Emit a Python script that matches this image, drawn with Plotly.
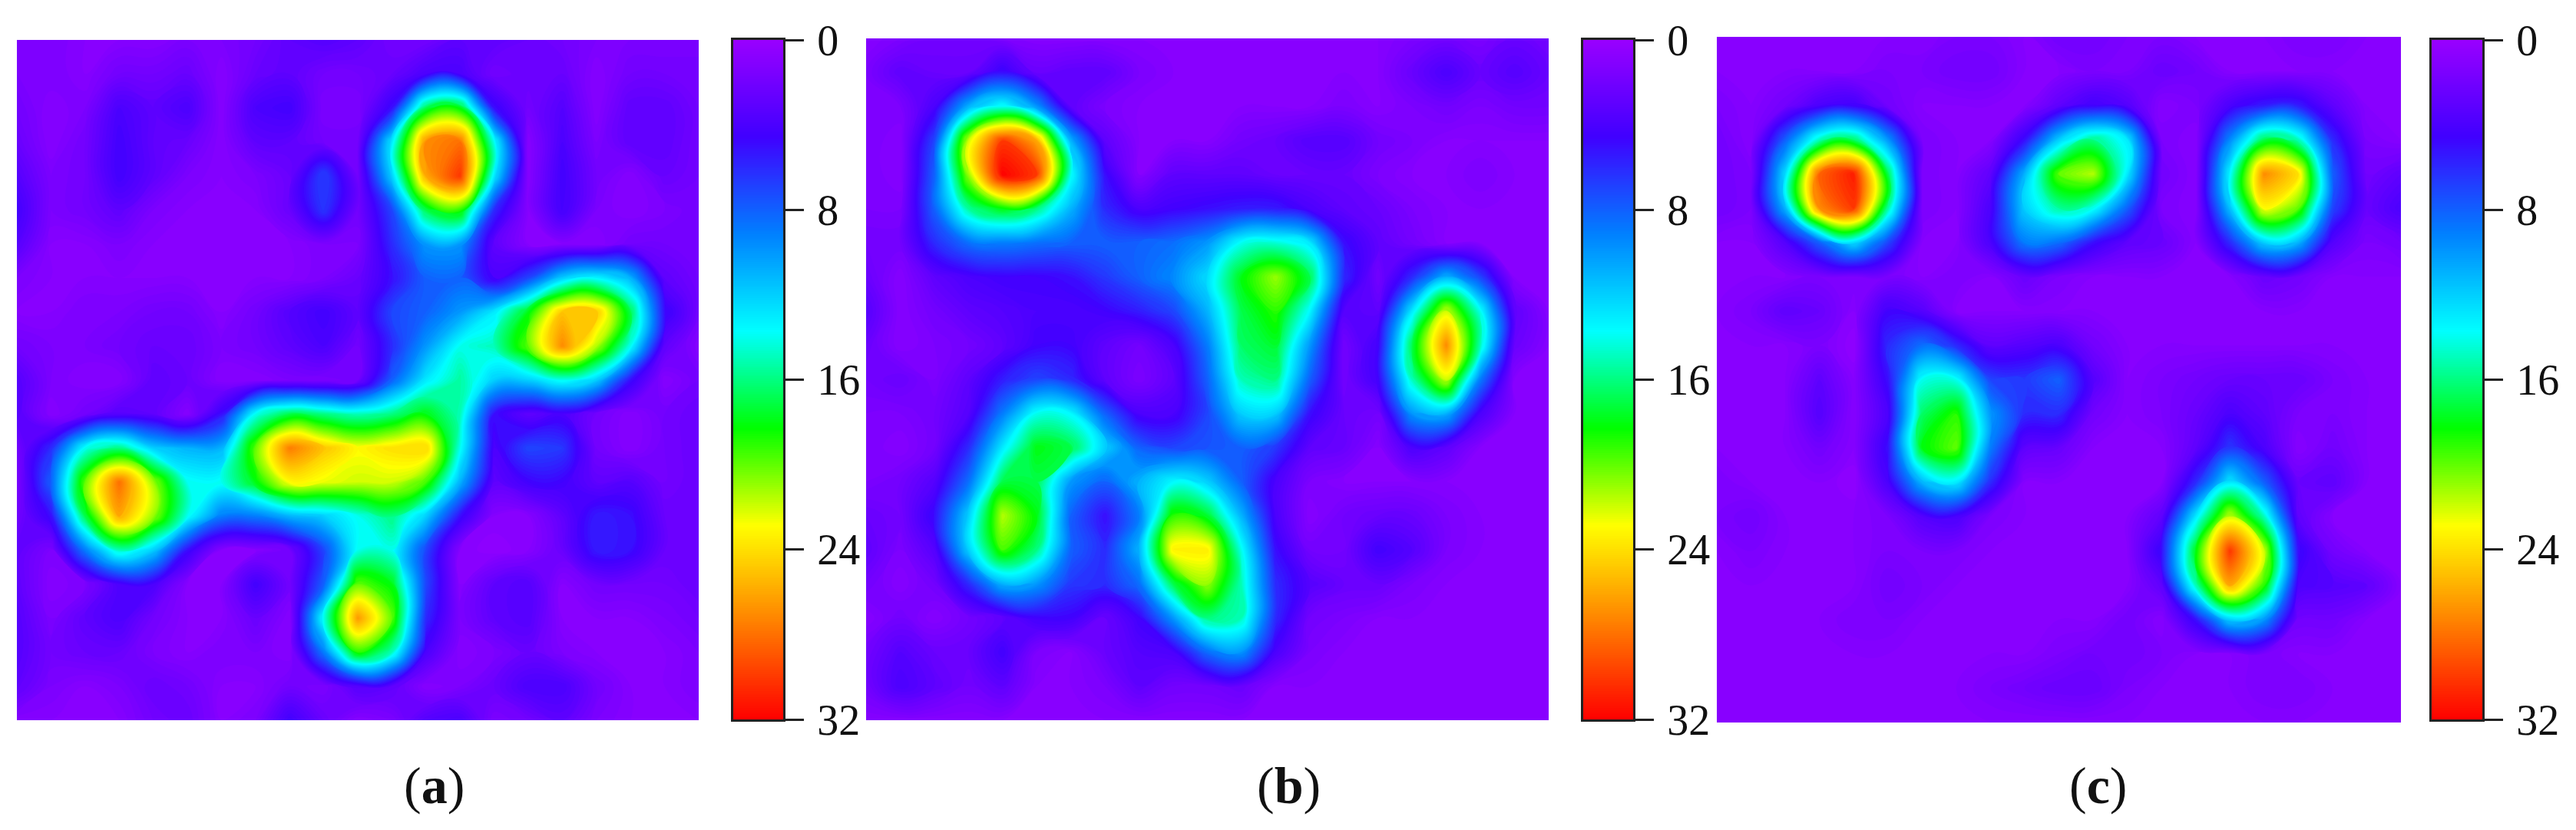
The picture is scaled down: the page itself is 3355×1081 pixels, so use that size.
import plotly.graph_objects as go
import numpy as np

W, H = 3355, 1081
OFF = 8  # page body margin
tick_values = [0, 8, 16, 24, 32]
panel_labels = ["a", "b", "c"]

field_a = [
[1.5,1.5,1,1,1,1.5,1.5,2,3,3.5,3,2,2,3,3,2.5,2,1.5,1.5,1.5,1.5],
[1.5,1.5,1,2,2,2.5,1,2.5,3,2,2,2.5,4,4,2,2.5,2.5,1,2,2,2],
[2,1,1.5,4,3,4,1,4,4.5,1.5,1.5,5,17,18,5,2,3.5,1,3,3,2],
[2.5,1,2,4.5,3,2.5,1,3,3,2,2,13,27,28,14,1,4,1.5,3,3,2],
[3.5,1.5,2,4.5,3,1.5,1,1.5,2.5,7,2,12,26,30,13,1,4.5,2,1,2.5,2],
[4.5,1.5,2,3,1.5,1,1,1,2.5,6.5,2,7,17,19,6,1,4.5,1.5,1,1.5,2],
[3.5,1,1,1.5,1,1,1,1,1,1.5,1.5,6,10,10,3,1,1,1,2,2,2],
[1.5,1,1,1,1,1,1,1,1,1.5,2.5,5,8,8,4,7,12,13.5,11,3,2],
[1,1,1.5,1.5,2,2,1,2,3.5,4.5,3,7,8,10,13,18,25,25,17,5,2],
[2,1.5,1.5,2,2.5,2.5,1.5,2,3,4,2,6,10,14,15,20,27,21.5,14,3,1],
[3.5,1.5,1,1,3,2.5,1,1,1.5,1.5,2,8,13,15.5,12,12,14,12,5,1,2],
[3.5,1,2,3.5,3,1,5,14,17,16,15,16,18,15,5,3,4,2,1,2,2.5],
[2,6,14,16,12,11,11,20,27.5,25,23,24,24.5,14,4,7,6.5,2,1,2,2.5],
[1.5,8,20,28,21,14,14,18,23,22.5,22,22,19.5,11,3,4.5,4.5,3,3.5,2,2.5],
[2,5,17,26,21,14,9,9,11,12,14,16,12,5,1,1,3,5.5,5,2.5,2.5],
[3,1.5,9,15,12,5,1,1,2,7,14,14,7,1,0.5,1,2.5,5.5,5,2.5,2.5],
[3,1,1.5,4,4,1,1,4.5,2,8,20,18,7,1,3,3.5,1,2,2,2,2.5],
[3.5,1.5,3,4,2,1,1,2.5,1,14,26.5,20,6,1.5,3,3.5,1,1,1,1.5,2],
[3.5,2,2.5,2.5,1.5,1,1.5,1.5,1,9,19,15,4,1,1.5,2.5,1.5,1,1,1,1.5],
[3,1.5,1,1.5,2.5,2,1,1,2,1.5,3.5,3,1,1.5,2.5,4,4,2,1,1,1.5],
[1,1,1,1,2,2.5,1,1.5,4.5,2.5,1,1.5,3.5,4,1.5,2,3,1.5,1,1,1],
]

field_b = [
[1,1.5,2,2,1.5,1,1,1,1,1,1,1,1,1,1,1,1.5,2,1.5,2.5,2],
[1.5,3,2.5,2.5,5,2.5,3,3,1.5,1,1,1,1,1,1,1,2.5,4,2.5,3.5,2.5],
[1.5,1.5,4,11,14,10,3,1.5,1,1,1,1,1,1,1.5,1,1.5,2,1.5,2,2],
[1.5,1,7,22,30,26,11,3,1,1,1,2,2.5,3.5,3.5,2,1.5,1,1,1,1],
[1.5,1,8,21,32,30,14,5,1,3,3,3,2.5,2.5,2.5,1.5,1,1,1.5,1,1],
[1.5,1.5,8,15.5,18,16,11,6,4,4.5,5,5.5,5.5,4,3,2.5,1.5,1,1,1,1],
[2,2,6,8.5,9,8.5,8,8,8,8.5,10,14,14.5,13,5,3,2,1,1,1,1],
[2.5,1,3,4,4.5,4.5,5,6.5,8,9.5,12.5,18,21,17,6,2,6,11,7,1,1],
[3.5,1,2,3,3.5,4,4,4.5,5.5,7,11,17,19,13.5,3.5,3,13,22,14,3,1],
[2.5,1,1.5,2,3,4.5,4.5,3,2,4,9,16.5,17.5,10,2,4.5,17,27,15,2.5,1],
[2,2.5,1.5,3,5.5,7,6,3,1.5,3,8,15,16,8,2,4.5,15,22,9,1,1],
[1.5,1.5,2,3.5,9,14,13.5,8,4,4,7,12,12,5,2.5,2,10,11,4,1,1],
[1.5,1,2,6,13,18,17,12,8,7,7.5,8,6.5,3,2.5,1,4,3,1,1,1],
[1.5,2,3.5,8.5,17,17,10,8,11,13.5,12,8,4,1.5,1,1,1,1,1,1,1],
[2.5,2,5,12,21.5,18,8,5,9,19,17.5,11,4,1,2,2.5,2.5,1.5,1,1,1],
[3,1.5,3.5,12,19.5,16,8,6,11,23.5,23.5,14,5,2,2,4.5,3.5,1.5,1,1,1],
[2,1,2,6,11,10,6.5,6,8.5,17,21,15,6,3.5,2.5,2.5,1.5,1,1,1,1],
[1,2,1,2,3,4.5,4.5,2.5,4.5,10,16,15,6,2,1.5,1,1,1,1,1,1],
[2,3.5,2.5,2.5,4.5,1.5,1,2.5,3.5,4,8.5,10,4,1.5,1,1,1,1,1,1,1],
[2,4,3,2,3,1,1,1.5,3,2,2,2.5,1,1,1,1,1,1,1,1,1],
[1,1,1,1,1,1,1,1,1,1,1,1,1,1,1,1,1,1,1,1,1],
]

field_c = [
[1,1,1,1,1,1,1,1.5,1.5,1,2,2,1.5,1.5,1,1,1,1.5,1.5,1,1],
[1,1,1,1,1,1.5,1.5,2,2,1,1,1.5,1.5,2.5,2,1,1,1,1,1,1],
[1.5,1,2,4,4.5,2,1,1,1,1,3,4.5,3.5,1,1.5,4,5.5,5.5,3,1,1],
[2,1,8,15,16.5,10,1.5,1,1,5,12,16,13,1.5,1,9.5,17,15,6,1.5,1],
[2,1.5,12.5,28.5,31,17,1.5,1,3,11,20,21.5,13,2,1,13.5,27,24,8,2,3],
[2,1.5,11,27,30,15.5,1.5,1,4,12,15.5,14,8,1.5,1,11.5,23,20,7,2.5,4],
[1,1,3.5,8,12.5,7,1,1,4,9,8.5,5,3,2.5,1,6,12,11,3.5,1.5,2],
[1,1,1,1.5,1.5,1.5,1,1.5,1,2.5,1.5,1,1,1,1,1,2.5,2,1,1,1],
[1,1.5,3,2.5,1,4.5,3.5,1,1,1,1,1,1,1,1,1,1,1,1,1,1],
[1,1,1,1.5,0.5,6,8.5,6,3,3.5,4,2,1,1,1,1,1,1,1,1,1],
[1,1,1,3,1,5,14,14,7,6.5,8,3.5,1,1.5,2,2.5,2.5,2.5,1.5,1,1],
[1,1,1,3.5,1,4,16.5,19,10,6,6,2,1,1.5,2.5,4,3,1.5,1.5,1,1],
[1,1,1,2,1,5,18,20,9,3,2.5,1,1,1,3,6.5,4,1,2,1,1],
[1.5,1,1,1,0.5,4,11,13,6,1,1,1,1,1,6,13,8,2.5,3,1,1],
[1.5,2,1,1,1,1.5,3.5,4,1.5,1,1,1,1,3,13,22,15,3,1,1,1],
[1,1.5,1,1,1,1.5,1.5,1.5,1,1,1,1,1,5,18,30,22,5,2,1,1],
[1,1,1,1,1,2,1.5,1,1,1,1,1,1,3,15,26,19,4,3.5,3,1],
[1,1,1,1,1.5,1.5,1,1,1,1,1,1,2,1,5,12,10,2,2,1,1],
[1,1,1,1,1,1,1,1,1,1,1.5,2,2,1.5,1,1,1.5,1,1,1,1],
[1,1,1,1,1,1,1,1,1.5,2,2.5,2.5,1.5,1,1,1,1.5,1.5,1,1,1],
[1,1,1,1,1,1,1,1,1,1,1,1,1,1,1,1,1,1,1,1,1],
]

rainbow = [
    [0/7, "#9900ff"], [1/7, "#4000ff"], [2/7, "#0080ff"], [3/7, "#00ffff"],
    [4/7, "#00ff00"], [5/7, "#ffff00"], [6/7, "#ff8000"], [7/7, "#ff0000"],
]

# pixel boxes: heatmap (x0, x1, y0, y1) and colour strip (x0, x1)
panels = [
    dict(z=field_a, box=(22, 910, 52, 938), bar=(955, 1020), label_x=565),
    dict(z=field_b, box=(1128, 2017, 50, 938), bar=(2062, 2127), label_x=1678),
    dict(z=field_c, box=(2236, 3127, 48, 941), bar=(3167, 3233), label_x=2733),
]

def px(v):
    return (v - OFF) / W

def py(v):
    return 1 - (v - OFF) / H

fig = go.Figure()
bar_levels = np.linspace(0, 32, 321)
for i, (p, lab) in enumerate(zip(panels, panel_labels)):
    n = 2 * i + 1
    x0, x1, y0, y1 = p["box"]
    bx0, bx1 = p["bar"]
    z = np.array(p["z"], dtype=float)
    xa, ya = f"x{n}", f"y{n}"
    fig.add_trace(go.Contour(
        z=z, xaxis=xa, yaxis=ya, colorscale=rainbow, zmin=0, zmax=32,
        autocontour=False, contours=dict(start=0, end=32, size=0.25, coloring="fill", showlines=False),
        line=dict(width=0, smoothing=1.3), showscale=False, hoverinfo="skip",
    ))
    xb, yb = f"x{n+1}", f"y{n+1}"
    fig.add_trace(go.Heatmap(
        z=bar_levels[:, None], y=bar_levels, x=[0], xaxis=xb, yaxis=yb,
        colorscale=rainbow, zmin=0, zmax=32, showscale=False, hoverinfo="skip",
    ))
    layout_axes = {
        f"xaxis{n}": dict(domain=[px(x0), px(x1)], anchor=ya, visible=False,
                          range=[0, 20], automargin=False),
        f"yaxis{n}": dict(domain=[py(y1), py(y0)], anchor=xa, visible=False,
                          range=[20, 0], automargin=False),
        f"xaxis{n+1}": dict(domain=[px(bx0), px(bx1)], anchor=yb, range=[-0.5, 0.5],
                            showticklabels=False, ticks="", showgrid=False, zeroline=False,
                            showline=True, linecolor="#222", linewidth=3, mirror=True,
                            automargin=False),
        f"yaxis{n+1}": dict(domain=[py(937), py(52)], anchor=xb, side="right",
                            range=[32, 0], tickmode="array", tickvals=tick_values,
                            ticks="outside", ticklen=24, tickwidth=3, tickcolor="#222",
                            showgrid=False, zeroline=False, showline=True, linecolor="#222",
                            linewidth=3, mirror=True, ticklabelstandoff=6, automargin=False,
                            tickfont=dict(family="Liberation Serif", size=56, color="#111")),
    }
    fig.update_layout(**layout_axes)
    fig.add_annotation(
        x=px(p["label_x"]), y=py(1023), xref="paper", yref="paper", showarrow=False,
        xanchor="center", yanchor="middle",
        text=f"(<b>{lab}</b>)", font=dict(family="Liberation Serif", size=68, color="#111"),
    )

fig.update_layout(
    width=W, height=H, margin=dict(l=0, r=0, t=0, b=0), autosize=False,
    paper_bgcolor="white", plot_bgcolor="white", showlegend=False,
)
fig.write_html("out.html")
